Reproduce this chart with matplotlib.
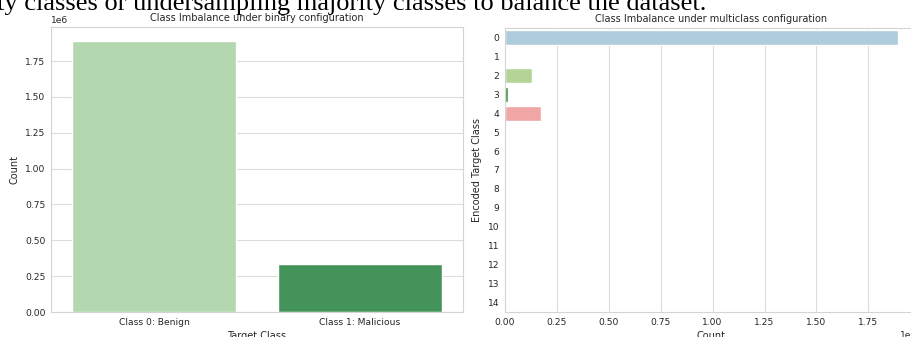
import matplotlib
matplotlib.use('Agg')
import matplotlib.pyplot as plt
import seaborn as sns

# binary configuration
binary_labels = ['Class 0: Benign', 'Class 1: Malicious']
binary_counts = [1893000, 333000]

# multiclass configuration (encoded target classes 0..14)
multi_classes = [str(i) for i in range(15)]
multi_counts = [1892000, 1950, 128000, 12500, 174000, 5500, 1800, 4000,
                11, 36, 30, 20, 15, 10, 5]

intro_text = 'ty classes or undersampling majority classes to balance the dataset.'

sns.set_theme(style='whitegrid')
plt.rcParams['font.family'] = ['DejaVu Sans']
plt.rcParams['axes.linewidth'] = 0.8
plt.rcParams['grid.linewidth'] = 0.8
plt.rcParams['axes.edgecolor'] = '#d4d4d4'
plt.rcParams['grid.color'] = '#dcdcdc'
fs = 6.6
lfs = 7.0

W, H = 911, 337
fig = plt.figure(figsize=(W / 100, H / 100), dpi=100)

# page text above the figure (cut off in the screenshot)
fig.text(-0.003, 1 - 10 / H, intro_text, fontsize=19, va='baseline',
         family='Liberation Serif', color='black')

ax1 = fig.add_axes([51 / W, 25 / H, 412 / W, 285 / H])
sns.barplot(x=binary_labels, y=binary_counts, hue=binary_labels,
            palette='Greens', legend=False, ax=ax1)
ax1.set_title('Class Imbalance under binary configuration', fontsize=lfs, pad=4)
ax1.set_xlabel('Target Class', fontsize=lfs, labelpad=3)
ax1.set_ylabel('Count', fontsize=lfs, labelpad=4)
ax1.tick_params(labelsize=fs, length=0, pad=4)
ax1.yaxis.get_offset_text().set_fontsize(fs)

ax2 = fig.add_axes([505 / W, 25 / H, 412.5 / W, 284 / H])
sns.barplot(x=multi_counts, y=multi_classes, hue=multi_classes,
            palette='Paired', legend=False, orient='h', ax=ax2)
ax2.set_title('Class Imbalance under multiclass configuration', fontsize=lfs, pad=4)
ax2.set_xlabel('Count', fontsize=lfs, labelpad=3)
ax2.set_ylabel('Encoded Target Class', fontsize=lfs, labelpad=4)
ax2.tick_params(labelsize=fs, length=0, pad=4)
ax2.xaxis.get_offset_text().set_fontsize(fs)

fig.savefig('out.png', dpi=100)
